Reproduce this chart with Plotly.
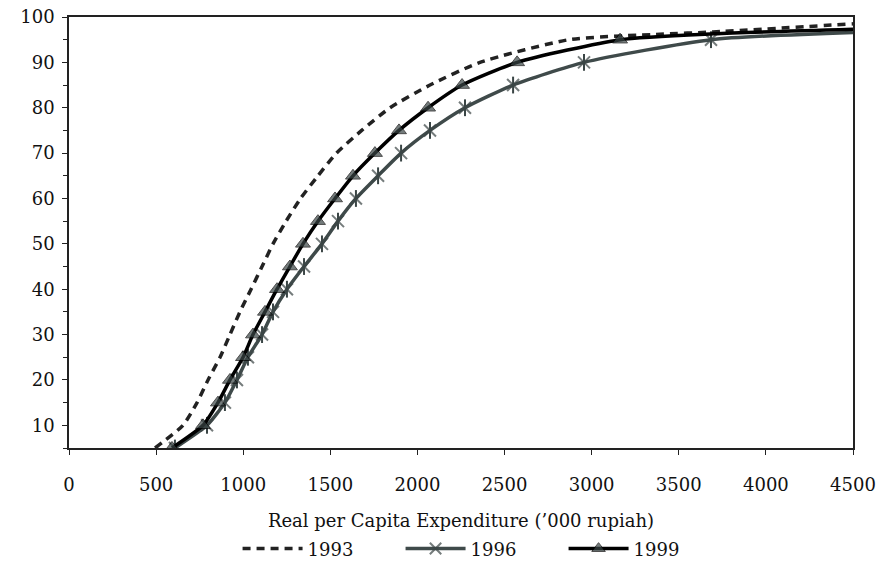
import plotly.graph_objects as go

pct = [5, 10, 15, 20, 25, 30, 35, 40, 45, 50, 55, 60, 65, 70, 75, 80, 85, 90, 95]

x1993 = [494, 654, 735, 798, 867, 924, 981, 1045, 1108, 1171, 1246, 1329, 1429, 1535, 1680, 1843, 2072, 2359, 2870, 3392, 3697, 4500]
y1993 = pct + [96.2, 96.7, 98.5]

x1996 = [608, 792, 895, 964, 1027, 1108, 1171, 1251, 1349, 1452, 1544, 1647, 1774, 1906, 2072, 2273, 2549, 2956, 3685, 4500]
y1996 = pct + [96.6]

x1999 = [591, 769, 855, 924, 999, 1056, 1125, 1194, 1268, 1343, 1429, 1527, 1630, 1756, 1894, 2061, 2256, 2572, 3163, 3700, 4500]
y1999 = pct + [96.3, 97.3]

xticks = [0, 500, 1000, 1500, 2000, 2500, 3000, 3500, 4000, 4500]
yticks = [10, 20, 30, 40, 50, 60, 70, 80, 90, 100]

FONT = "DejaVu Serif"
mcol = "#3a4545"

fig = go.Figure()
fig.add_trace(go.Scatter(
    x=x1993, y=y1993, name="1993", mode="lines",
    line=dict(color="#222222", width=3.5, dash="8px,6px", shape="spline", smoothing=0.6),
))
fig.add_trace(go.Scatter(
    x=x1996, y=y1996, name="1996", mode="lines+markers", legendgroup="1996",
    line=dict(color="#3f4a4a", width=3.5, shape="spline", smoothing=0.6),
    marker=dict(symbol="x-thin-open", size=[12] * 19 + [0], color=mcol, line=dict(width=2, color=mcol)),
))
fig.add_trace(go.Scatter(
    x=x1996[:19], y=y1996[:19], name="1996", mode="markers", legendgroup="1996", showlegend=False,
    marker=dict(symbol="line-ns-open", size=12, color=mcol, line=dict(width=2, color=mcol)),
    hoverinfo="skip",
))
fig.add_trace(go.Scatter(
    x=x1999, y=y1999, name="1999", mode="lines+markers",
    line=dict(color="#000000", width=3.5, shape="spline", smoothing=0.6),
    marker=dict(symbol="triangle-up", size=[13] * 19 + [0, 0], color=mcol),
))

fig.update_layout(
    width=878, height=573,
    margin=dict(l=69, r=25, t=17, b=125, autoexpand=False),
    paper_bgcolor="white", plot_bgcolor="white",
    font=dict(family=FONT, size=18, color="#111111"),
    showlegend=True,
    legend=dict(orientation="h", x=0.215, xanchor="left", y=-0.191, yanchor="top",
                font=dict(family=FONT, size=18), itemwidth=60, tracegroupgap=0,
                entrywidth=88, entrywidthmode="pixels"),
    xaxis=dict(
        range=[0, 4500], tickvals=xticks, ticktext=[str(v) for v in xticks],
        showgrid=False, zeroline=False, showline=True, linecolor="#222222", linewidth=1.5,
        mirror=True, ticks="outside", ticklen=5, tickcolor="#222222",
        ticklabelstandoff=15,
        title=dict(text="Real per Capita Expenditure (’000 rupiah)", standoff=20,
                   font=dict(family=FONT, size=18)),
    ),
    yaxis=dict(
        range=[5, 100], tickvals=yticks, ticktext=[str(v) for v in yticks],
        showgrid=False, zeroline=False, showline=True, linecolor="#222222", linewidth=1.5,
        mirror=True, ticks="outside", ticklen=5, tickcolor="#222222",
        minor=dict(dtick=5, tick0=5, ticks="outside", ticklen=4, tickcolor="#222222"),
        ticklabelstandoff=4,
    ),
)

fig.write_html("out.html", config={"displayModeBar": False},
               post_script="document.body.style.margin='0';")
